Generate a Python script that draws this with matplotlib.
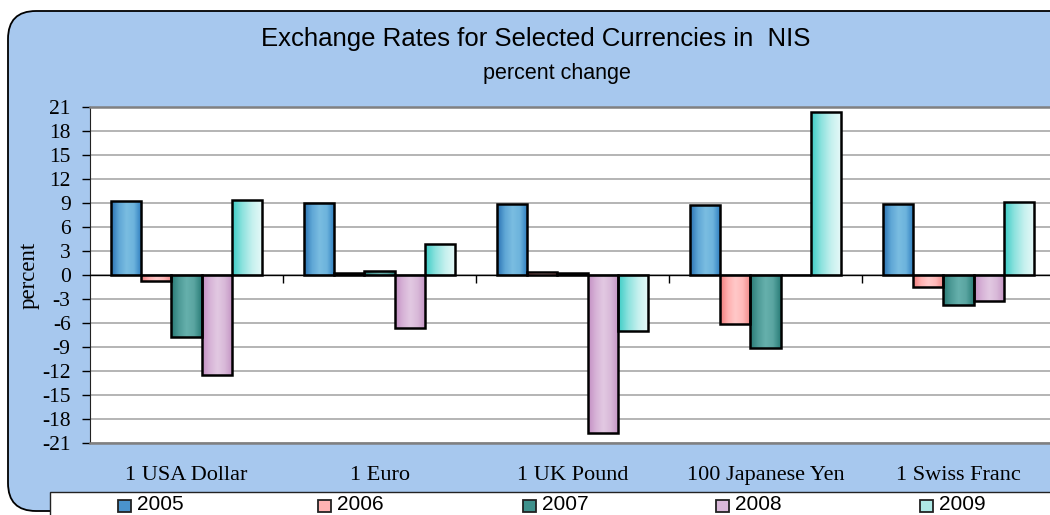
import matplotlib
matplotlib.use('Agg')
import matplotlib.pyplot as plt
import numpy as np
from matplotlib.colors import LinearSegmentedColormap
from matplotlib.patches import FancyBboxPatch, Rectangle
from matplotlib.transforms import blended_transform_factory

plt.rcParams['axes.unicode_minus'] = False

# Données : variation en pourcentage
currencies = ['1 USA Dollar', '1 Euro', '1 UK Pound', '100 Japanese Yen', '1 Swiss Franc']
years = ['2005', '2006', '2007', '2008', '2009']
v2005 = [9.2, 9.0, 8.9, 8.7, 8.9]
v2006 = [-0.75, 0.2, 0.4, -6.1, -1.5]
v2007 = [-7.8, 0.5, 0.2, -9.1, -3.8]
v2008 = [-12.5, -6.6, -19.8, 0.0, -3.25]
v2009 = [9.4, 3.9, -7.0, 20.4, 9.1]
series = [v2005, v2006, v2007, v2008, v2009]

# Dégradés horizontaux (gauche -> droite) pour chaque série
gradients = [
    ['#2a72b3', '#5ea6d5', '#7abde1', '#6cb3dc', '#2c7bbd'],
    ['#f07c7c', '#ffb0b0', '#ffc9c9', '#ffb8b8', '#ee8686'],
    ['#287a75', '#4d9a96', '#66b0ac', '#5aa5a1', '#2a7d78'],
    ['#c38fc3', '#d7b3d7', '#e2c9e2', '#d8b8d8', '#c393c3'],
    ['#3ccdc6', '#8de2de', '#c7f1ef', '#e6f9f8'],
]
legend_sq = ['#4a93cc', '#ffb3b3', '#3f918c', '#d9b8d9', '#aeeae7']

BG = '#a7c8ee'

fig = plt.figure(figsize=(10.5, 5.15), dpi=100)
W, H = 1050, 515

# fond : panneau bleu arrondi + boîte de légende
bg = fig.add_axes([0, 0, 1, 1], zorder=0)
bg.set_xlim(0, W)
bg.set_ylim(H, 0)
bg.axis('off')
bg.add_patch(FancyBboxPatch((8, 11), 1100, 500, boxstyle='round,pad=0,rounding_size=28',
                            facecolor=BG, edgecolor='black', linewidth=1.3))
bg.add_patch(Rectangle((50, 492), 1100, 40, facecolor='white', edgecolor='#222222', linewidth=1))

fig.text(536 / W, 1 - 39 / H, 'Exchange Rates for Selected Currencies in  NIS',
         ha='center', va='center', fontsize=18.5, family='Liberation Sans')
fig.text(557 / W, 1 - 74 / H, 'percent change',
         ha='center', va='center', fontsize=15.5, family='Liberation Sans')

ax = fig.add_axes([90 / W, 1 - 443 / H, 965 / W, 336 / H], zorder=1)
ax.set_facecolor('white')

n = len(years)
width = 0.156
x = np.arange(len(currencies))
for i, (vals, grad) in enumerate(zip(series, gradients)):
    pos = x + (i - (n - 1) / 2) * width
    bars = ax.bar(pos, vals, width, facecolor='none', edgecolor='black', linewidth=1.8, zorder=4)
    cmap = LinearSegmentedColormap.from_list('g%d' % i, grad)
    img = np.linspace(0, 1, 64).reshape(1, -1)
    for b in bars:
        h = b.get_height()
        if h == 0:
            continue
        x0 = b.get_x()
        y0, y1 = sorted([0, h])
        im = ax.imshow(img, cmap=cmap, extent=(x0, x0 + width, y0, y1),
                       aspect='auto', zorder=3, interpolation='bilinear')
        im.set_clip_path(b)

ax.set_xlim(-0.5, len(currencies) - 0.5)
ax.set_ylim(-21, 21)
ax.set_yticks(np.arange(-21, 22, 3))
ax.yaxis.grid(True, color='#a8a8a8', linewidth=1.2, zorder=0)
ax.set_axisbelow(True)
ax.tick_params(axis='y', direction='out', length=6, width=1, labelsize=15.5, pad=8)
for lab in ax.get_yticklabels():
    lab.set_family('Liberation Serif')

# axe horizontal au zéro, avec graduations entre catégories
ax.spines['bottom'].set_position(('data', 0))
ax.spines['bottom'].set_color('black')
ax.spines['bottom'].set_linewidth(1)
ax.spines['bottom'].set_zorder(5)
ax.set_xticks([])
ax.set_xticks(np.arange(0.5, len(currencies) - 0.5, 1), minor=True)
ax.tick_params(axis='x', which='minor', direction='out', length=6, width=1, labelbottom=False)
ax.spines['top'].set_color('#808080')
ax.spines['top'].set_linewidth(1.8)
ax.spines['right'].set_visible(False)
ax.spines['left'].set_color('#222222')
ax.axhline(-21, color='#808080', linewidth=1.8, zorder=5, clip_on=False)

trans = blended_transform_factory(ax.transData, ax.transAxes)
for xi, name in zip(x, currencies):
    ax.text(xi, -0.098, name, transform=trans, ha='center', va='center',
            fontsize=16, family='Liberation Serif')

ax.set_ylabel('percent', fontsize=16.5, family='Liberation Serif', va='center')
ax.yaxis.set_label_coords(-0.063, 0.5)

# légende manuelle
leg_x = [118, 318, 523, 716, 920]
for lx, yr, c in zip(leg_x, years, legend_sq):
    bg.add_patch(Rectangle((lx, 500), 13, 12, facecolor=c, edgecolor='#222222', linewidth=1.3))
    bg.text(lx + 19, 504, yr, ha='left', va='center', fontsize=15, family='Liberation Sans')

fig.savefig('out.png', dpi=100)
